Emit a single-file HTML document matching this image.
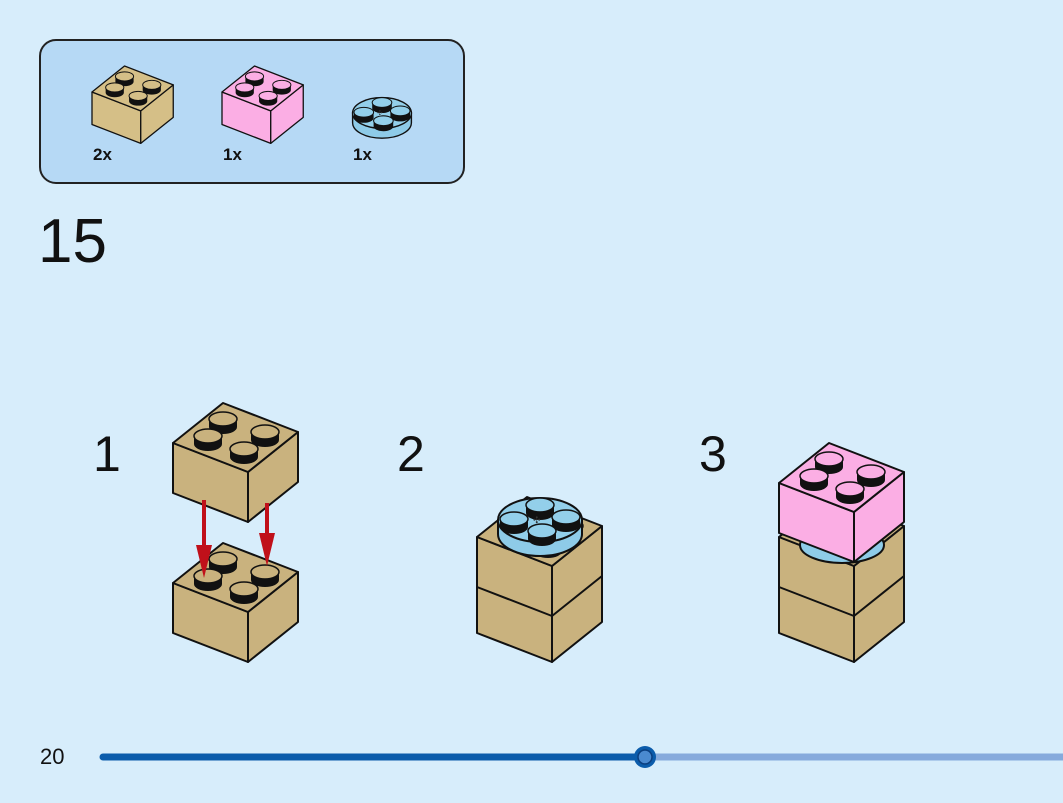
<!DOCTYPE html>
<html><head><style>
html,body{margin:0;padding:0;background:#d7edfb;}
svg{display:block;}
text{font-family:"Liberation Sans",sans-serif;fill:#111;}
</style></head><body>
<svg width="1063" height="803" viewBox="0 0 1063 803" xmlns="http://www.w3.org/2000/svg">
<defs>
  <g id="stud">
    <path d="M-14,0 v7 a14,7 0 0 0 28,0 v-7 z" fill="#111"/>
    <ellipse cx="0" cy="-1" rx="14" ry="7" fill="var(--c)" stroke="#111" stroke-width="1.5"/>
  </g>
  <g id="brick">
    <polygon points="0,40 75,69 75,119 0,90" fill="var(--c)" stroke="#111" stroke-width="2" stroke-linejoin="round"/>
    <polygon points="75,69 125,29 125,79 75,119" fill="var(--c)" stroke="#111" stroke-width="2" stroke-linejoin="round"/>
    <polygon points="0,40 50,0 125,29 75,69" fill="var(--c)" stroke="#111" stroke-width="2" stroke-linejoin="round"/>
    <use href="#stud" x="50" y="17"/>
    <use href="#stud" x="35" y="34"/>
    <use href="#stud" x="92" y="30"/>
    <use href="#stud" x="71" y="47"/>
  </g>
  <g id="plate">
    <path d="M-42,0 v14 a42,22 0 0 0 84,0 v-14 z" fill="#8ecbe8" stroke="#111" stroke-width="2"/>
    <ellipse cx="0" cy="0" rx="42" ry="22" fill="#93cfea" stroke="#111" stroke-width="2"/>
    <g style="--c:#93cfea">
      <use href="#stud" x="0" y="-14"/>
      <use href="#stud" x="-26" y="0"/>
      <use href="#stud" x="26" y="-2"/>
      <use href="#stud" x="2" y="12"/>
    </g>
    <text x="-7" y="3" font-size="9" style="fill:#333">✣</text>
  </g>
</defs>

<rect x="40" y="40" width="424" height="143" rx="16" fill="#b6d9f5" stroke="#222" stroke-width="2"/>
<g transform="translate(92,66) scale(0.65)" style="--c:#d5bf87"><use href="#brick"/></g>
<g transform="translate(222,66) scale(0.65)" style="--c:#fbaee4"><use href="#brick"/></g>
<g transform="translate(382,113) scale(0.7)"><use href="#plate"/></g>
<text x="93" y="160" font-size="17" font-weight="bold">2x</text>
<text x="223" y="160" font-size="17" font-weight="bold">1x</text>
<text x="353" y="160" font-size="17" font-weight="bold">1x</text>

<text x="38" y="262" font-size="62">15</text>

<text x="93" y="471" font-size="50">1</text>
<text x="397" y="471" font-size="50">2</text>
<text x="699" y="471" font-size="50">3</text>

<!-- step1 -->
<g style="--c:#c9b27e">
  <use href="#brick" x="173" y="543"/>
  <use href="#brick" x="173" y="403"/>
</g>
<g stroke="#c0101a" stroke-width="4" fill="#c0101a">
  <line x1="204" y1="500" x2="204" y2="550"/>
  <polygon points="196,545 212,545 204,578" stroke="none"/>
  <line x1="267" y1="503" x2="267" y2="538"/>
  <polygon points="259,533 275,533 267,566" stroke="none"/>
</g>

<!-- step2 -->
<g style="--c:#c9b27e">
  <use href="#brick" x="477" y="543"/>
  <use href="#brick" x="477" y="497"/>
</g>
<g transform="translate(540,520)"><use href="#plate"/></g>

<!-- step3 -->
<g style="--c:#c9b27e">
  <use href="#brick" x="779" y="543"/>
  <use href="#brick" x="779" y="497"/>
</g>
<ellipse cx="842" cy="545" rx="42" ry="18" fill="#8ecbe8" stroke="#111" stroke-width="2"/>
<g style="--c:#fbaee4"><use href="#brick" x="779" y="443"/></g>

<text x="40" y="764" font-size="22">20</text>
<line x1="645" y1="757" x2="1063" y2="757" stroke="#86aadc" stroke-width="7"/>
<line x1="103" y1="757" x2="645" y2="757" stroke="#0b5cab" stroke-width="7" stroke-linecap="round"/>
<circle cx="645" cy="757" r="11" fill="#0b5cab"/>
<circle cx="645" cy="757" r="7" fill="#4a8ad0" stroke="#0a3f80" stroke-width="1.5"/>
</svg>
</body></html>
